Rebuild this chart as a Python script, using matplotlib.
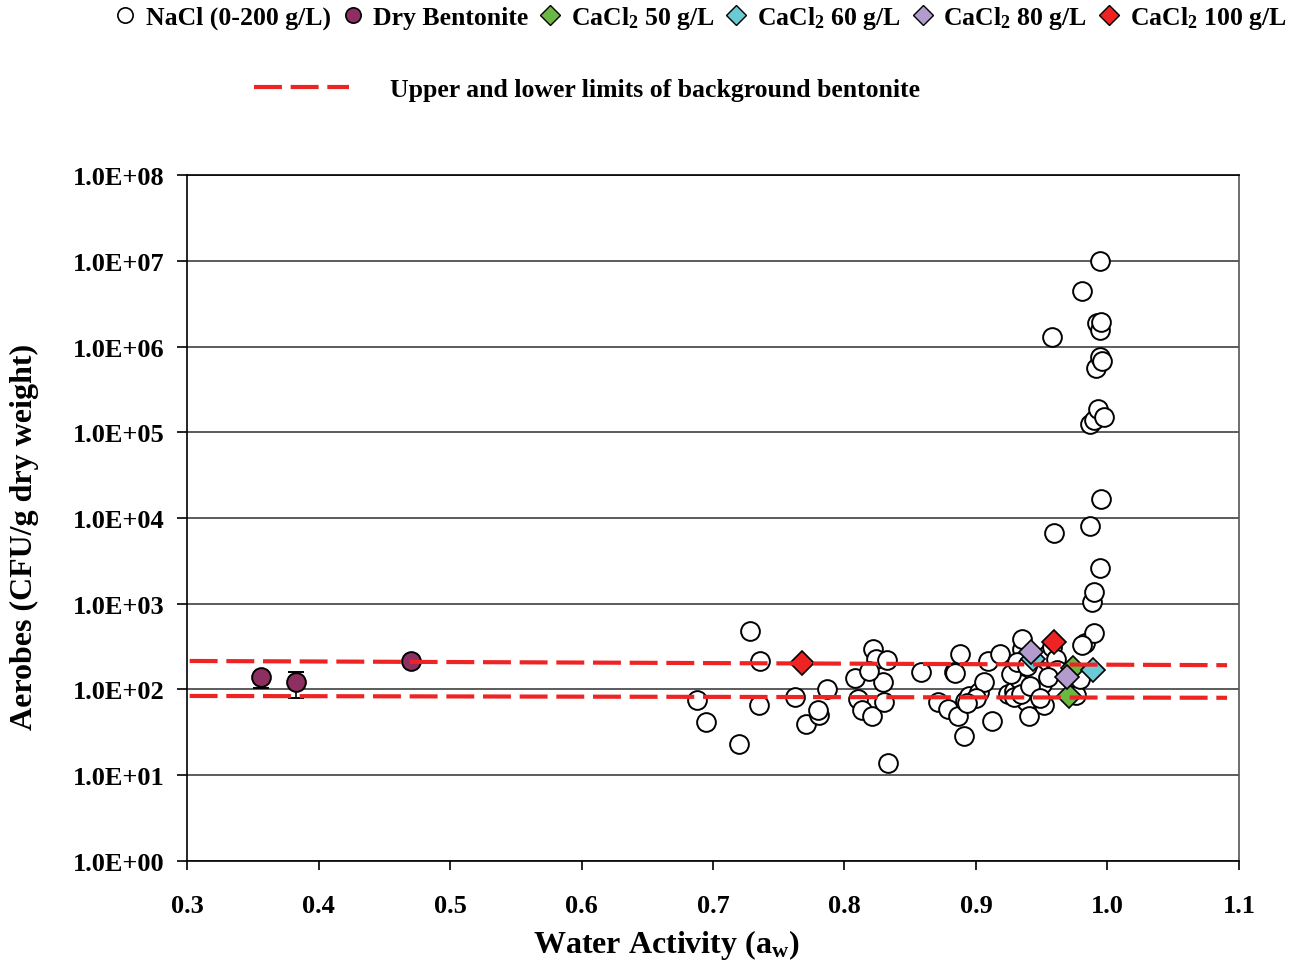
import numpy as np
import matplotlib
matplotlib.use("Agg")
import matplotlib.pyplot as plt
from matplotlib.lines import Line2D

plt.rcParams['font.family'] = ['Liberation Serif', 'DejaVu Serif']
plt.rcParams['font.weight'] = 'bold'
plt.rcParams['mathtext.fontset'] = 'custom'
plt.rcParams['mathtext.rm'] = 'Liberation Serif:bold'
plt.rcParams['mathtext.bf'] = 'Liberation Serif:bold'
plt.rcParams['mathtext.it'] = 'Liberation Serif:bold'

# NaCl amended bentonite (0-200 g/L)
nacl_aw = [0.688, 0.695, 0.720, 0.728, 0.736, 0.735, 0.762, 0.771, 0.781, 0.780,
           0.787, 0.808, 0.810, 0.813, 0.821, 0.822, 0.824, 0.832, 0.829, 0.830,
           0.819, 0.833, 0.858, 0.871, 0.879, 0.883, 0.884, 0.888, 0.886, 0.891,
           0.892, 0.895, 0.902, 0.906, 0.909, 0.912, 0.918, 0.924, 0.929, 0.932,
           0.933, 0.935, 0.935, 0.937, 0.938, 0.940, 0.942, 0.945, 0.947, 0.950,
           0.952, 0.955, 0.958, 0.961, 0.959, 0.976, 0.979, 0.981, 0.983, 0.987,
           0.987, 0.988, 0.990, 0.990, 0.990, 0.991, 0.992, 0.993, 0.994, 0.994,
           0.994, 0.994, 0.995, 0.995, 0.996, 0.997, 0.962, 0.981, 0.944, 0.955,
           0.929, 0.934, 0.941, 0.900, 0.893, 0.927, 0.931, 0.939, 0.949, 0.958]
nacl_cfu = [75, 42, 23, 481, 215, 66, 82, 40, 50, 58,
            101, 136, 78, 58, 49, 297, 227, 221, 122, 71,
            164, 14, 160, 71, 59, 160, 155, 259, 49, 29,
            73, 84, 94, 122, 215, 43, 259, 89, 96, 169,
            132, 297, 388, 190, 73, 49, 230, 101, 175, 116,
            66, 260, 310, 227, 6700, 86, 132, 4.4e6, 349, 1.25e5,
            8070, 1050, 1.39e5, 456, 1370, 5.6e5, 1.88e6, 1.87e5, 7.5e5, 9.9e6,
            2610, 1.56e6, 16700, 1.93e6, 6.8e5, 1.5e5, 170, 330, 150, 140,
            82, 88, 110, 80, 70, 150, 210, 190, 80, 1.3e6]

# Dry bentonite with error bars
dry_aw = [0.356, 0.383, 0.470]
dry_cfu = [140, 122, 215]
dry_lo = [104, 80, 215]
dry_hi = [140, 160, 215]

# CaCl2 amended bentonite
cacl50_aw = [0.974, 0.971]
cacl50_cfu = [178, 84]
cacl60_aw = [0.943, 0.989]
cacl60_cfu = [225, 169]
cacl80_aw = [0.942, 0.969]
cacl80_cfu = [274, 140]
cacl100_aw = [0.768, 0.959]
cacl100_cfu = [204, 358]

# Background bentonite limits
limit_aw = [0.302, 1.091]
limit_upper = [215, 192]
limit_lower = [84, 80]

RED = '#ee2424'

fig = plt.figure(figsize=(12.98, 9.62), dpi=100)
ax = fig.add_axes([0.1441, 0.104, 0.8104, 0.713])

ax.set_yscale('log')
ax.set_xlim(0.3, 1.1)
ax.set_ylim(1, 1e8)

ax.grid(axis='y', which='major', color='#404040', linewidth=1.2, zorder=0)
ax.set_axisbelow(True)

ms = 13.5
ax.plot(nacl_aw, nacl_cfu, 'o', ms=ms, mfc='white', mec='black', mew=1.4,
        linestyle='none', zorder=3)

dry_err = [np.array(dry_cfu) - np.array(dry_lo), np.array(dry_hi) - np.array(dry_cfu)]
ax.errorbar(dry_aw, dry_cfu, yerr=dry_err, fmt='o', ms=ms, mfc='#8e2f62',
            mec='black', mew=1.4, ecolor='black', elinewidth=1.2, capsize=6,
            zorder=4)

dm = 12.5
ax.plot(cacl50_aw, cacl50_cfu, 'D', ms=dm, mfc='#6ab843', mec='black', mew=1.2, ls='none', zorder=5)
ax.plot(cacl60_aw, cacl60_cfu, 'D', ms=dm, mfc='#6ccad6', mec='black', mew=1.2, ls='none', zorder=5)
ax.plot(cacl80_aw, cacl80_cfu, 'D', ms=dm, mfc='#b39bcd', mec='black', mew=1.2, ls='none', zorder=6)
ax.plot(cacl100_aw, cacl100_cfu, 'D', ms=dm, mfc=RED, mec='black', mew=1.2, ls='none', zorder=6)

ax.plot(limit_aw, limit_upper, color=RED, lw=3, dashes=(6.7, 2.1), zorder=7)
ax.plot(limit_aw, limit_lower, color=RED, lw=3, dashes=(6.7, 2.1), zorder=7)

xt = np.arange(0.3, 1.101, 0.1)
ax.set_xticks(xt)
ax.set_xticklabels([f'{v:.1f}' for v in xt])
yt = [10.0 ** k for k in range(9)]
ax.set_yticks(yt)
ax.set_yticklabels([f'1.0E+{k:02d}' for k in range(9)])
ax.yaxis.set_minor_locator(matplotlib.ticker.NullLocator())
ax.tick_params(axis='y', labelsize=19, direction='out', length=7, width=1.2, pad=9)
ax.tick_params(axis='x', labelsize=19, direction='out', length=6.5, width=1.2, pad=17)

for s in ax.spines.values():
    s.set_color('black')
    s.set_linewidth(1.2)
ax.spines['right'].set_color('#555555')

ax.set_xlabel('Water Activity (a$_\\mathregular{w}$)', fontsize=23, fontweight='bold')
ax.xaxis.set_label_coords(0.456, -0.097)
ax.set_ylabel('Aerobes (CFU/g dry weight)', fontsize=23, fontweight='bold')
ax.yaxis.set_label_coords(-0.141, 0.4745)

handles = [
    Line2D([], [], marker='o', ls='none', ms=11, mfc='white', mec='black', mew=1.2),
    Line2D([], [], marker='o', ls='none', ms=11, mfc='#8e2f62', mec='black', mew=1.2),
    Line2D([], [], marker='D', ls='none', ms=10, mfc='#6ab843', mec='black', mew=1.0),
    Line2D([], [], marker='D', ls='none', ms=10, mfc='#6ccad6', mec='black', mew=1.0),
    Line2D([], [], marker='D', ls='none', ms=10, mfc='#b39bcd', mec='black', mew=1.0),
    Line2D([], [], marker='D', ls='none', ms=10, mfc=RED, mec='black', mew=1.0),
]
labels = ['NaCl (0-200 g/L)', 'Dry Bentonite', 'CaCl$_2$ 50 g/L',
          'CaCl$_2$ 60 g/L', 'CaCl$_2$ 80 g/L', 'CaCl$_2$ 100 g/L']
fig.legend(handles, labels, loc='center left', bbox_to_anchor=(0.0905, 0.981),
           ncol=6, frameon=False, fontsize=18.5, handlelength=0.6,
           handletextpad=0.5, columnspacing=0.55, borderpad=0, borderaxespad=0)

line_handle = [Line2D([], [], color=RED, lw=3, dashes=(6.7, 2.1))]
fig.legend(line_handle, ['Upper and lower limits of background bentonite'],
           loc='center left', bbox_to_anchor=(0.1957, 0.9064), frameon=False,
           fontsize=18.5, handlelength=3.7, handletextpad=1.6,
           borderpad=0, borderaxespad=0)

fig.savefig('out.png', dpi=100)
